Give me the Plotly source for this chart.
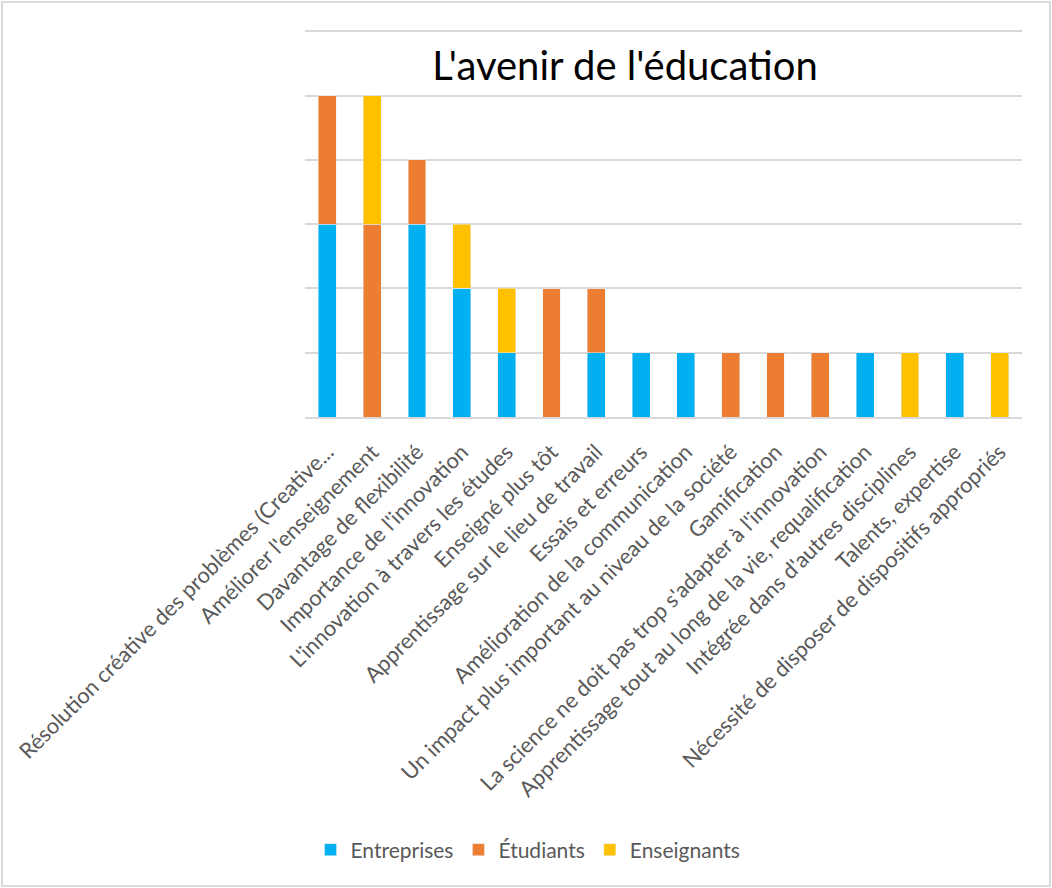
import plotly.graph_objects as go

categories = [
    "Résolution créative des problèmes (Creative...",
    "Améliorer l'enseignement",
    "Davantage de flexibilité",
    "Importance de l'innovation",
    "L'innovation à travers les études",
    "Enseigné plus tôt",
    "Apprentissage sur le lieu de travail",
    "Essais et erreurs",
    "Amélioration de la communication",
    "Un impact plus important au niveau de la société",
    "Gamification",
    "La science ne doit pas trop s'adapter à l'innovation",
    "Apprentissage tout au long de la vie, requalification",
    "Intégrée dans d'autres disciplines",
    "Talents, expertise",
    "Nécessité de disposer de dispositifs appropriés",
]
entreprises = [3, 0, 3, 2, 1, 0, 1, 1, 1, 0, 0, 0, 1, 0, 1, 0]
etudiants = [2, 3, 1, 0, 0, 2, 1, 0, 0, 1, 1, 1, 0, 0, 0, 0]
enseignants = [0, 2, 0, 1, 1, 0, 0, 0, 0, 0, 0, 0, 0, 1, 0, 1]

W, H = 1052, 888
L, R, T, B = 305, 30, 30, 471

fig = go.Figure()
fig.add_trace(go.Bar(x=categories, y=entreprises, name="Entreprises", marker_color="#00B0F0"))
fig.add_trace(go.Bar(x=categories, y=etudiants, name="Étudiants", marker_color="#ED7D31"))
fig.add_trace(go.Bar(x=categories, y=enseignants, name="Enseignants", marker_color="#FFC000"))

pw, ph = W - L - R, H - T - B
fig.add_shape(type="rect", xref="paper", yref="paper",
              x0=-(L - 2) / pw, x1=1 + (R - 2) / pw,
              y0=-(B - 2) / ph, y1=1 + (T - 2) / ph,
              line=dict(color="#D0D0D0", width=1.5), layer="below")

fig.update_layout(
    width=W, height=H,
    margin=dict(l=L, r=R, t=T, b=B, autoexpand=False),
    barmode="stack",
    bargap=0.6,
    plot_bgcolor="white",
    paper_bgcolor="white",
    font=dict(family="Lato, sans-serif", color="#595959", size=21),
    title=dict(text="L'avenir de l'éducation", x=625 / W, xanchor="center",
               y=1 - 66 / H, yanchor="middle", yref="container",
               font=dict(size=40, color="#000000")),
    xaxis=dict(tickangle=-45, showgrid=False, showline=True, linecolor="#D9D9D9",
               linewidth=1.5, ticks="", ticklabelstandoff=12,
               tickfont=dict(size=21.8, color="#595959")),
    yaxis=dict(range=[0, 6.02], tick0=0, dtick=1, showticklabels=False, gridcolor="#D9D9D9",
               gridwidth=1.5, zeroline=False, showline=False),
    legend=dict(orientation="h", x=528 / W, xref="container", xanchor="center",
                y=1 - 850 / H, yref="container", yanchor="middle",
                font=dict(size=21, color="#595959"), traceorder="normal"),
)

fig.write_html("out.html", config={"displayModeBar": False},
               post_script="document.body.style.margin='0';")
